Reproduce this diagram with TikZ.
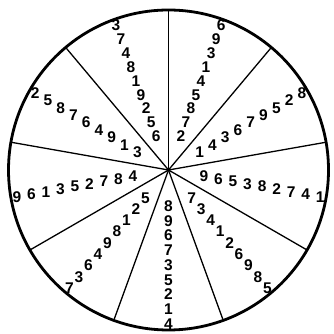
\documentclass[tikz,border=0pt]{standalone}
\usepackage{fontspec}
\setmainfont{Liberation Sans}
\usetikzlibrary{calc}
\begin{document}
\begin{tikzpicture}[x=1pt,y=1pt,
  rim/.style={line width=2.8pt},
  spoke/.style={line width=1.3pt},
  digit/.style={font=\bfseries\fontsize{15.5}{15.5}\selectfont, inner sep=0pt,
    text height=11pt, text depth=0pt}]
\useasboundingbox (0,0) rectangle (333,334);
\fill[white] (0,0) rectangle (333,334);
\coordinate (c) at (168.5,164);
\draw[rim] (c) circle (160);
\foreach \a in {90,50,10,-30,-70,-110,-150,170,130}
  \draw[spoke] (c) -- ++(\a:160) coordinate (s\a);
\foreach \ang/\digs [count=\k] in {
  70/{2,7,8,5,4,1,3,9,6},
  30/{1,4,3,6,7,9,5,2,8},
  -10/{9,6,5,3,8,2,7,4,1},
  -50/{7,3,4,1,2,6,9,8,5},
  -90/{8,9,6,7,3,5,2,1,4},
  -130/{5,2,1,8,9,4,6,3,7},
  190/{4,8,7,2,5,3,1,6,9},
  150/{3,1,9,4,6,7,8,5,2},
  110/{6,5,2,9,1,8,4,7,3}}
{
  \foreach \d [count=\i from 0] in \digs
    \node[digit] (d\k-\i) at ($(c)+(\ang:36+14.75*\i)$) {\d};
}
\end{tikzpicture}
\end{document}
